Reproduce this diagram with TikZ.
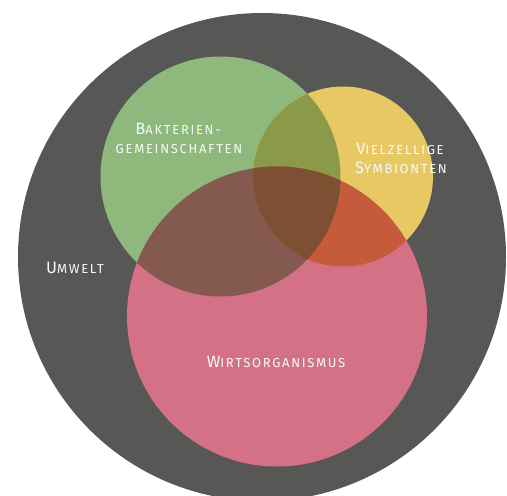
\documentclass[tikz,border=0pt]{standalone}
\usepackage{fontspec}
\setmainfont{Fira Sans}[LetterSpace=13]
\definecolor{umw}{HTML}{575756}
\definecolor{bak}{HTML}{8EB87C}
\definecolor{viel}{HTML}{E8C863}
\definecolor{wirt}{HTML}{D47187}
\definecolor{bv}{HTML}{8A9A48}
\definecolor{bw}{HTML}{845A50}
\definecolor{vw}{HTML}{C55B3A}
\definecolor{bvw}{HTML}{7D4F33}
\newcommand{\fsc}[2]{{\fontsize{16.5}{18}\selectfont #1}{\fontsize{13}{18}\selectfont #2}}
\tikzset{lbl/.style={text=white!95!gray, align=center, inner sep=0pt, font=\fontsize{13}{19}\selectfont}}
\begin{document}
\begin{tikzpicture}[x=1pt,y=-1pt]
\useasboundingbox (0,0) rectangle (507,496);
\begin{scope}
\clip (0,0) rectangle (507,496);
\fill[umw] (262,257) circle (244);
\end{scope}
\def\cb{(220.5,176.5) circle (120)}
\def\cv{(343,176.5) circle (90)}
\def\cw{(277,316.5) circle (150)}
\fill[bak] \cb;
\fill[viel] \cv;
\fill[wirt] \cw;
\begin{scope}\clip \cb; \fill[bv] \cv; \end{scope}
\begin{scope}\clip \cb; \fill[bw] \cw; \end{scope}
\begin{scope}\clip \cv; \fill[vw] \cw; \end{scope}
\begin{scope}\clip \cb; \clip \cv; \fill[bvw] \cw; \end{scope}
\node[lbl, anchor=base] (b1) at (178,134) {\fsc{B}{AKTERIEN-}};
\node[lbl, anchor=base] (b2) at (179,153) {\fsc{}{GEMEINSCHAFTEN}};
\node[lbl, anchor=base] (v1) at (400,154) {\fsc{V}{IELZELLIGE}};
\node[lbl, anchor=base] (v2) at (401,173) {\fsc{S}{YMBIONTEN}};
\node[lbl, anchor=base] (u) at (75,273) {\fsc{U}{MWELT}};
\node[lbl, anchor=base] (w) at (276,367) {\fsc{W}{IRTSORGANISMUS}};
\end{tikzpicture}
\end{document}
